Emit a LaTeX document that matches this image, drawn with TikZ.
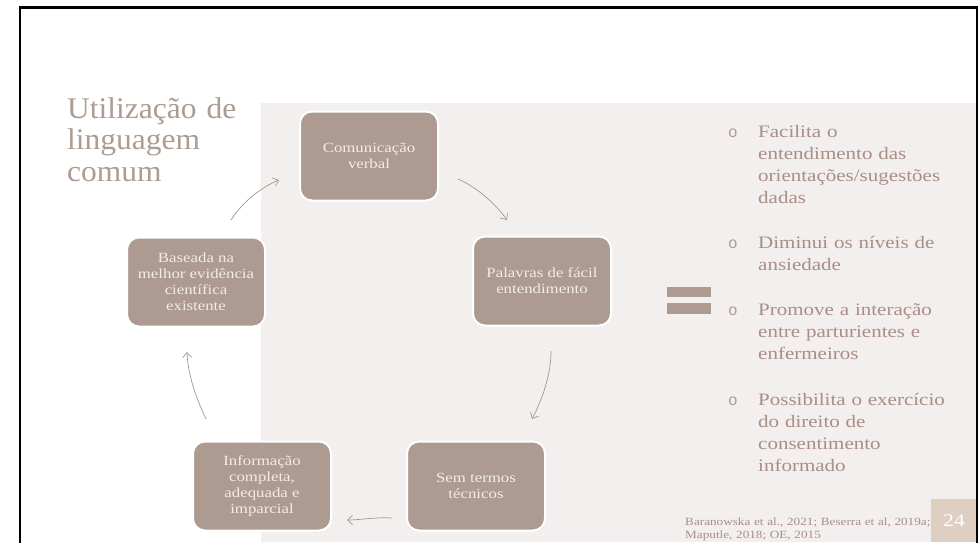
\documentclass[tikz,border=0pt]{standalone}
\usepackage{fontspec}
\setmainfont[FakeStretch=1.2]{Liberation Serif}
\newfontfamily\headfont[FakeStretch=1.05]{Liberation Serif}
\newfontfamily\markfont{Liberation Mono}
\usetikzlibrary{arrows.meta}

\definecolor{panelbg}{HTML}{F3EFEE}
\definecolor{boxfill}{HTML}{AD9B91}
\definecolor{boxtext}{HTML}{F2ECE8}
\definecolor{titlecol}{HTML}{AE9C92}
\definecolor{arrowcol}{HTML}{A8968E}
\definecolor{listcol}{HTML}{A98E86}
\definecolor{bulletcol}{HTML}{B09A92}
\definecolor{pagebox}{HTML}{DFCFC3}

\tikzset{
  stepbox/.style={draw=white, line width=2pt, fill=boxfill, rounded corners=12pt,
    minimum width=138pt, minimum height=89pt, align=center, text=boxtext,
    font=\fontsize{14}{16}\selectfont, inner sep=2pt},
  flow/.style={draw=arrowcol, line width=0.7pt,
    -{Straight Barb[length=5pt, width=9pt]}},
  itemtext/.style={anchor=base west, text width=215pt, align=left, inner sep=0pt,
    text=listcol, font=\fontsize{17.5}{22}\selectfont},
  bulletmark/.style={anchor=base, inner sep=0pt, text=bulletcol,
    font=\markfont\fontsize{16}{16}\selectfont},
}

\begin{document}
\begin{tikzpicture}[x=1pt, y=-1pt]
  \useasboundingbox (0,0) rectangle (980,542);
  \fill[white] (0,0) rectangle (980,542);

  % light panel behind the cycle and the list
  \fill[panelbg] (261,103) rectangle (977,542);

  % slide frame
  \draw[black, line width=2.5pt] (20,560) -- (20,7.5) -- (977,7.5) -- (977,560);

  % heading
  \node[anchor=base west, text width=230pt, align=left, inner sep=0pt,
        text=titlecol, font=\headfont\fontsize{30}{31.5}\selectfont] (title) at (67,118)
        {Utilização de\\linguagem\\comum};

  % cycle of communication principles
  \node[stepbox] (com) at (369,156) {Comunicação\\verbal};
  \node[stepbox] (pal) at (542,281) {Palavras de fácil\\entendimento};
  \node[stepbox] (sem) at (476,486) {Sem termos\\técnicos};
  \node[stepbox] (inf) at (262,486) {Informação\\completa,\\adequada e\\imparcial};
  \node[stepbox] (bas) at (196,282) {Baseada na\\melhor evidência\\científica\\existente};

  % arrow end points between the boxes
  \coordinate (a1s) at (231,220);  \coordinate (a1e) at (279,180);
  \coordinate (a2s) at (458,179);  \coordinate (a2e) at (507,220);
  \coordinate (a3s) at (551,351);  \coordinate (a3e) at (532,419);
  \coordinate (a4s) at (392,518);  \coordinate (a4e) at (347,520);
  \coordinate (a5s) at (206,419);  \coordinate (a5e) at (187,352);

  \draw[flow] (a1s) .. controls (243,201) and (262,187) .. (a1e);
  \draw[flow] (a2s) .. controls (475,186) and (495,203) .. (a2e);
  \draw[flow] (a3s) .. controls (551,375) and (542,400) .. (a3e);
  \draw[flow] (a4s) .. controls (375,517) and (360,520) .. (a4e);
  \draw[flow] (a5s) .. controls (196,398) and (188,375) .. (a5e);

  % equals sign
  \fill[boxfill] (667,287) rectangle (711,297);
  \fill[boxfill] (667,303) rectangle (711,314);

  % outcomes list
  \node[bulletmark] (b1) at (733,137) {o};
  \node[itemtext] (t1) at (758,137) {Facilita o\\entendimento das\\orientações/sugestões\\dadas};
  \node[bulletmark] (b2) at (733,248) {o};
  \node[itemtext] (t2) at (758,248) {Diminui os níveis de\\ansiedade};
  \node[bulletmark] (b3) at (733,315) {o};
  \node[itemtext] (t3) at (758,315) {Promove a interação\\entre parturientes e\\enfermeiros};
  \node[bulletmark] (b4) at (733,405) {o};
  \node[itemtext] (t4) at (758,405) {Possibilita o exercício\\do direito de\\consentimento\\informado};

  % references
  \node[anchor=base west, text width=260pt, align=left, inner sep=0pt, text=listcol,
        font=\fontsize{11}{13}\selectfont] (refs) at (685,525)
        {Baranowska et al., 2021; Beserra et al, 2019a;\\Maputle, 2018; OE, 2015};

  % page number
  \fill[pagebox] (931,499) rectangle (976,542);
  \node[text=white, font=\fontsize{18}{18}\selectfont, inner sep=0pt] (pg) at (954,521) {24};
\end{tikzpicture}
\end{document}
